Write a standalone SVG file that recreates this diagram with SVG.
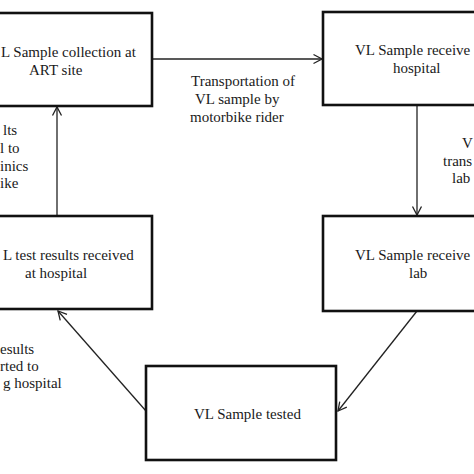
<svg xmlns="http://www.w3.org/2000/svg" width="474" height="474" viewBox="0 0 474 474">
<style>
.box{fill:#fff;stroke:#111;stroke-width:2.6}
.t{font-family:"Liberation Serif","Times New Roman",serif;font-size:15px;fill:#1a1a1a}
.c{fill:none;stroke:#222;stroke-width:1.3}
</style>
<defs>
<marker id="a" markerWidth="12" markerHeight="12" refX="0" refY="0" viewBox="-10 -6 12 12" orient="auto" markerUnits="userSpaceOnUse">
<path d="M-8.5,-4.5 L0,0 L-8.5,4.5" fill="none" stroke="#222" stroke-width="1.3"/>
</marker>
</defs>
<rect width="474" height="474" fill="#fff"/>
<g id="connectors">
<line class="c" x1="152" y1="59" x2="322" y2="59" marker-end="url(#a)"/>
<line class="c" x1="417" y1="105" x2="417" y2="215" marker-end="url(#a)"/>
<line class="c" x1="417" y1="311" x2="338" y2="411" marker-end="url(#a)"/>
<line class="c" x1="146" y1="411" x2="58" y2="311" marker-end="url(#a)"/>
<line class="c" x1="57" y1="216" x2="57" y2="107" marker-end="url(#a)"/>
</g>
<g id="n1">
<rect class="box" x="-10" y="13" width="162" height="93"/>
<text class="t" x="1" y="57">L Sample collection at</text>
<text class="t" x="29" y="75">ART site</text>
</g>
<g id="n2">
<rect class="box" x="323" y="12" width="170" height="93"/>
<text class="t" x="355" y="55">VL Sample receive</text>
<text class="t" x="393" y="73">hospital</text>
</g>
<g id="n3">
<rect class="box" x="-10" y="216" width="162" height="93"/>
<text class="t" x="3" y="260">L test results received</text>
<text class="t" x="25" y="278">at hospital</text>
</g>
<g id="n4">
<rect class="box" x="323" y="216" width="170" height="95"/>
<text class="t" x="355" y="260">VL Sample receive</text>
<text class="t" x="409" y="278">lab</text>
</g>
<g id="n5">
<rect class="box" x="146" y="366" width="190" height="94"/>
<text class="t" x="194" y="419">VL Sample tested</text>
</g>
<g id="labels">
<text class="t" x="191" y="86">Transportation of</text>
<text class="t" x="195" y="104">VL sample by</text>
<text class="t" x="190" y="122">motorbike rider</text>
<text class="t" x="3" y="135">lts</text>
<text class="t" x="0" y="153">l to</text>
<text class="t" x="0" y="171">inics</text>
<text class="t" x="0" y="188">ike</text>
<text class="t" x="462" y="148">V</text>
<text class="t" x="443" y="166">trans</text>
<text class="t" x="452" y="183">lab</text>
<text class="t" x="0" y="354">esults</text>
<text class="t" x="0" y="371">rted to</text>
<text class="t" x="3" y="388">g hospital</text>
</g>
</svg>
